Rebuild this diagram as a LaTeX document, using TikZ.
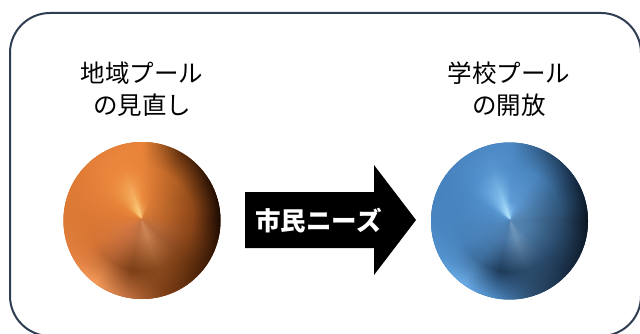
\documentclass[tikz,border=0pt]{standalone}
\usepackage{fontspec}
\newfontfamily\jp{Noto Sans CJK JP}

% radial profile of one slice of a metallic ball:
% apex (wa), near apex (wb), half way (wc), rim (wd)
\pgfdeclarehorizontalshading[wa,wb,wc,wd]{wedge}{100bp}{%
  color(0bp)=(wa); color(25bp)=(wa); color(36bp)=(wb);
  color(55bp)=(wc); color(70bp)=(wd); color(100bp)=(wd)}

% ---- orange ball: colours at key angles ----
\definecolor{o0a}{HTML}{D07A3A}\definecolor{o0b}{HTML}{C0682C}\definecolor{o0c}{HTML}{8A4418}\definecolor{o0d}{HTML}{1E0C02}
\definecolor{o30a}{HTML}{D87C38}\definecolor{o30b}{HTML}{C8702E}\definecolor{o30c}{HTML}{9A501C}\definecolor{o30d}{HTML}{2A1204}
\definecolor{o60a}{HTML}{E08038}\definecolor{o60b}{HTML}{D87834}\definecolor{o60c}{HTML}{C06828}\definecolor{o60d}{HTML}{5A2C0C}
\definecolor{o90a}{HTML}{F8C070}\definecolor{o90b}{HTML}{EC8C40}\definecolor{o90c}{HTML}{E8843A}\definecolor{o90d}{HTML}{E88238}
\definecolor{o110a}{HTML}{FFE090}\definecolor{o110b}{HTML}{F8B868}\definecolor{o110c}{HTML}{EC8A3E}\definecolor{o110d}{HTML}{E8823A}
\definecolor{o130a}{HTML}{FFD080}\definecolor{o130b}{HTML}{F0A050}\definecolor{o130c}{HTML}{EA863C}\definecolor{o130d}{HTML}{E4803A}
\definecolor{o150a}{HTML}{EC8C40}\definecolor{o150b}{HTML}{E88438}\definecolor{o150c}{HTML}{E4803A}\definecolor{o150d}{HTML}{DE7A34}
\definecolor{o180a}{HTML}{E07C38}\definecolor{o180b}{HTML}{E07A36}\definecolor{o180c}{HTML}{DC7834}\definecolor{o180d}{HTML}{DA7834}
\definecolor{o210a}{HTML}{D87C40}\definecolor{o210b}{HTML}{D47840}\definecolor{o210c}{HTML}{D47434}\definecolor{o210d}{HTML}{E28040}
\definecolor{o235a}{HTML}{D07A44}\definecolor{o235b}{HTML}{C87040}\definecolor{o235c}{HTML}{B06030}\definecolor{o235d}{HTML}{F49A58}
\definecolor{o260a}{HTML}{C87846}\definecolor{o260b}{HTML}{B86C3C}\definecolor{o260c}{HTML}{7A3E16}\definecolor{o260d}{HTML}{C07040}
\definecolor{o290a}{HTML}{D89060}\definecolor{o290b}{HTML}{C88050}\definecolor{o290c}{HTML}{8A4A1E}\definecolor{o290d}{HTML}{7A3C14}
\definecolor{o320a}{HTML}{C87440}\definecolor{o320b}{HTML}{B0663A}\definecolor{o320c}{HTML}{7E4016}\definecolor{o320d}{HTML}{4A2208}
\colorlet{o360a}{o0a}\colorlet{o360b}{o0b}\colorlet{o360c}{o0c}\colorlet{o360d}{o0d}
\definecolor{obase}{HTML}{C46E30}

% ---- blue ball ----
\definecolor{b0a}{HTML}{5C8CB8}\definecolor{b0b}{HTML}{4A78A4}\definecolor{b0c}{HTML}{2A4A6A}\definecolor{b0d}{HTML}{0A1420}
\definecolor{b30a}{HTML}{5E92C4}\definecolor{b30b}{HTML}{5084B4}\definecolor{b30c}{HTML}{34608A}\definecolor{b30d}{HTML}{12243A}
\definecolor{b60a}{HTML}{64A0D8}\definecolor{b60b}{HTML}{5A94CC}\definecolor{b60c}{HTML}{4A84BC}\definecolor{b60d}{HTML}{284C70}
\definecolor{b90a}{HTML}{A0D8FF}\definecolor{b90b}{HTML}{5E9CD8}\definecolor{b90c}{HTML}{4E8CC8}\definecolor{b90d}{HTML}{4C88C4}
\definecolor{b110a}{HTML}{C8F0FF}\definecolor{b110b}{HTML}{90CCF4}\definecolor{b110c}{HTML}{5A98D2}\definecolor{b110d}{HTML}{4C88C4}
\definecolor{b130a}{HTML}{B0E4FF}\definecolor{b130b}{HTML}{78B4E8}\definecolor{b130c}{HTML}{5090CC}\definecolor{b130d}{HTML}{4A86C2}
\definecolor{b150a}{HTML}{64A2DA}\definecolor{b150b}{HTML}{5494D0}\definecolor{b150c}{HTML}{4A88C4}\definecolor{b150d}{HTML}{4682BE}
\definecolor{b180a}{HTML}{5890C8}\definecolor{b180b}{HTML}{5088C2}\definecolor{b180c}{HTML}{4884BE}\definecolor{b180d}{HTML}{4884C0}
\definecolor{b210a}{HTML}{5088BE}\definecolor{b210b}{HTML}{4C84BA}\definecolor{b210c}{HTML}{4680B8}\definecolor{b210d}{HTML}{5292CE}
\definecolor{b235a}{HTML}{4E84B8}\definecolor{b235b}{HTML}{4A7EB0}\definecolor{b235c}{HTML}{3A6A98}\definecolor{b235d}{HTML}{6AAAE4}
\definecolor{b260a}{HTML}{5280B0}\definecolor{b260b}{HTML}{4A78A8}\definecolor{b260c}{HTML}{1E3A58}\definecolor{b260d}{HTML}{4A84BC}
\definecolor{b290a}{HTML}{7CA0C4}\definecolor{b290b}{HTML}{6A90B4}\definecolor{b290c}{HTML}{2C4C6C}\definecolor{b290d}{HTML}{2A4A6A}
\definecolor{b320a}{HTML}{5888B4}\definecolor{b320b}{HTML}{4C7CA8}\definecolor{b320c}{HTML}{284868}\definecolor{b320d}{HTML}{16283E}
\colorlet{b360a}{b0a}\colorlet{b360b}{b0b}\colorlet{b360c}{b0c}\colorlet{b360d}{b0d}
\definecolor{bbase}{HTML}{4A80B4}

\definecolor{framecol}{HTML}{2E3D52}

% #1 colour prefix, #2 ball centre, #3 apex of the metallic cone shading
\newcommand\metalball[3]{%
  \begin{scope}
    \clip (#2) circle[radius=78.5];
    \fill[#1base] (#2) circle[radius=80];
    \foreach \sa/\sb in {0/30,30/60,60/90,90/110,110/130,130/150,150/180,
                         180/210,210/235,235/260,260/290,290/320,320/360}{
      \pgfmathtruncatemacro\nsteps{round((\sb-\sa)/2.5)}
      \foreach \k in {1,...,\nsteps}{
        \pgfmathsetmacro\wang{\sa+(\k-0.5)*2.5}
        \pgfmathtruncatemacro\pmix{round((\k-0.5)/\nsteps*100)}
        \colorlet{wa}{#1\sb a!\pmix!#1\sa a}
        \colorlet{wb}{#1\sb b!\pmix!#1\sa b}
        \colorlet{wc}{#1\sb c!\pmix!#1\sa c}
        \colorlet{wd}{#1\sb d!\pmix!#1\sa d}
        \begin{scope}[transform canvas={shift={(#3)},rotate=\wang}]
          \shade[shading=wedge] (0,0) -- (86,3.6) -- (86,-3.6) -- cycle;
        \end{scope}
      }
    }
  \end{scope}}

\begin{document}
\begin{tikzpicture}[x=1pt,y=-1pt,
  frame/.style={draw=framecol, line width=2pt, rounded corners=40pt},
  caption/.style={font=\jp\fontsize{24.5}{32}\selectfont, align=center,
                  text=black, inner sep=0pt},
  arrowtext/.style={font=\jp\bfseries\fontsize{25.5}{28}\selectfont,
                    text=white, inner sep=0pt}]
\useasboundingbox (0,0) rectangle (640,334);

% outer frame
\draw[frame] (10,13) rectangle (641,336);

% ball centres and cone apexes
\coordinate (lball) at (142,220.5);
\coordinate (lapex) at (141.5,219);
\coordinate (rball) at (509.5,221);
\coordinate (rapex) at (510,220);

\metalball{o}{lball}{lapex}
\metalball{b}{rball}{rapex}

% captions
\node[caption] (lcap) at (142,89.5) {地域プール\\の見直し};
\node[caption] (rcap) at (509,89.5) {学校プール\\の開放};

% block arrow
\coordinate (atip) at (416,220);
\fill[black] (245,192) -- (374,192) -- (374,165) -- (atip)
  -- (374,275) -- (374,248) -- (245,248) -- cycle;
\node[arrowtext] (need) at (318.5,221) {市民ニーズ};
\end{tikzpicture}
\end{document}
